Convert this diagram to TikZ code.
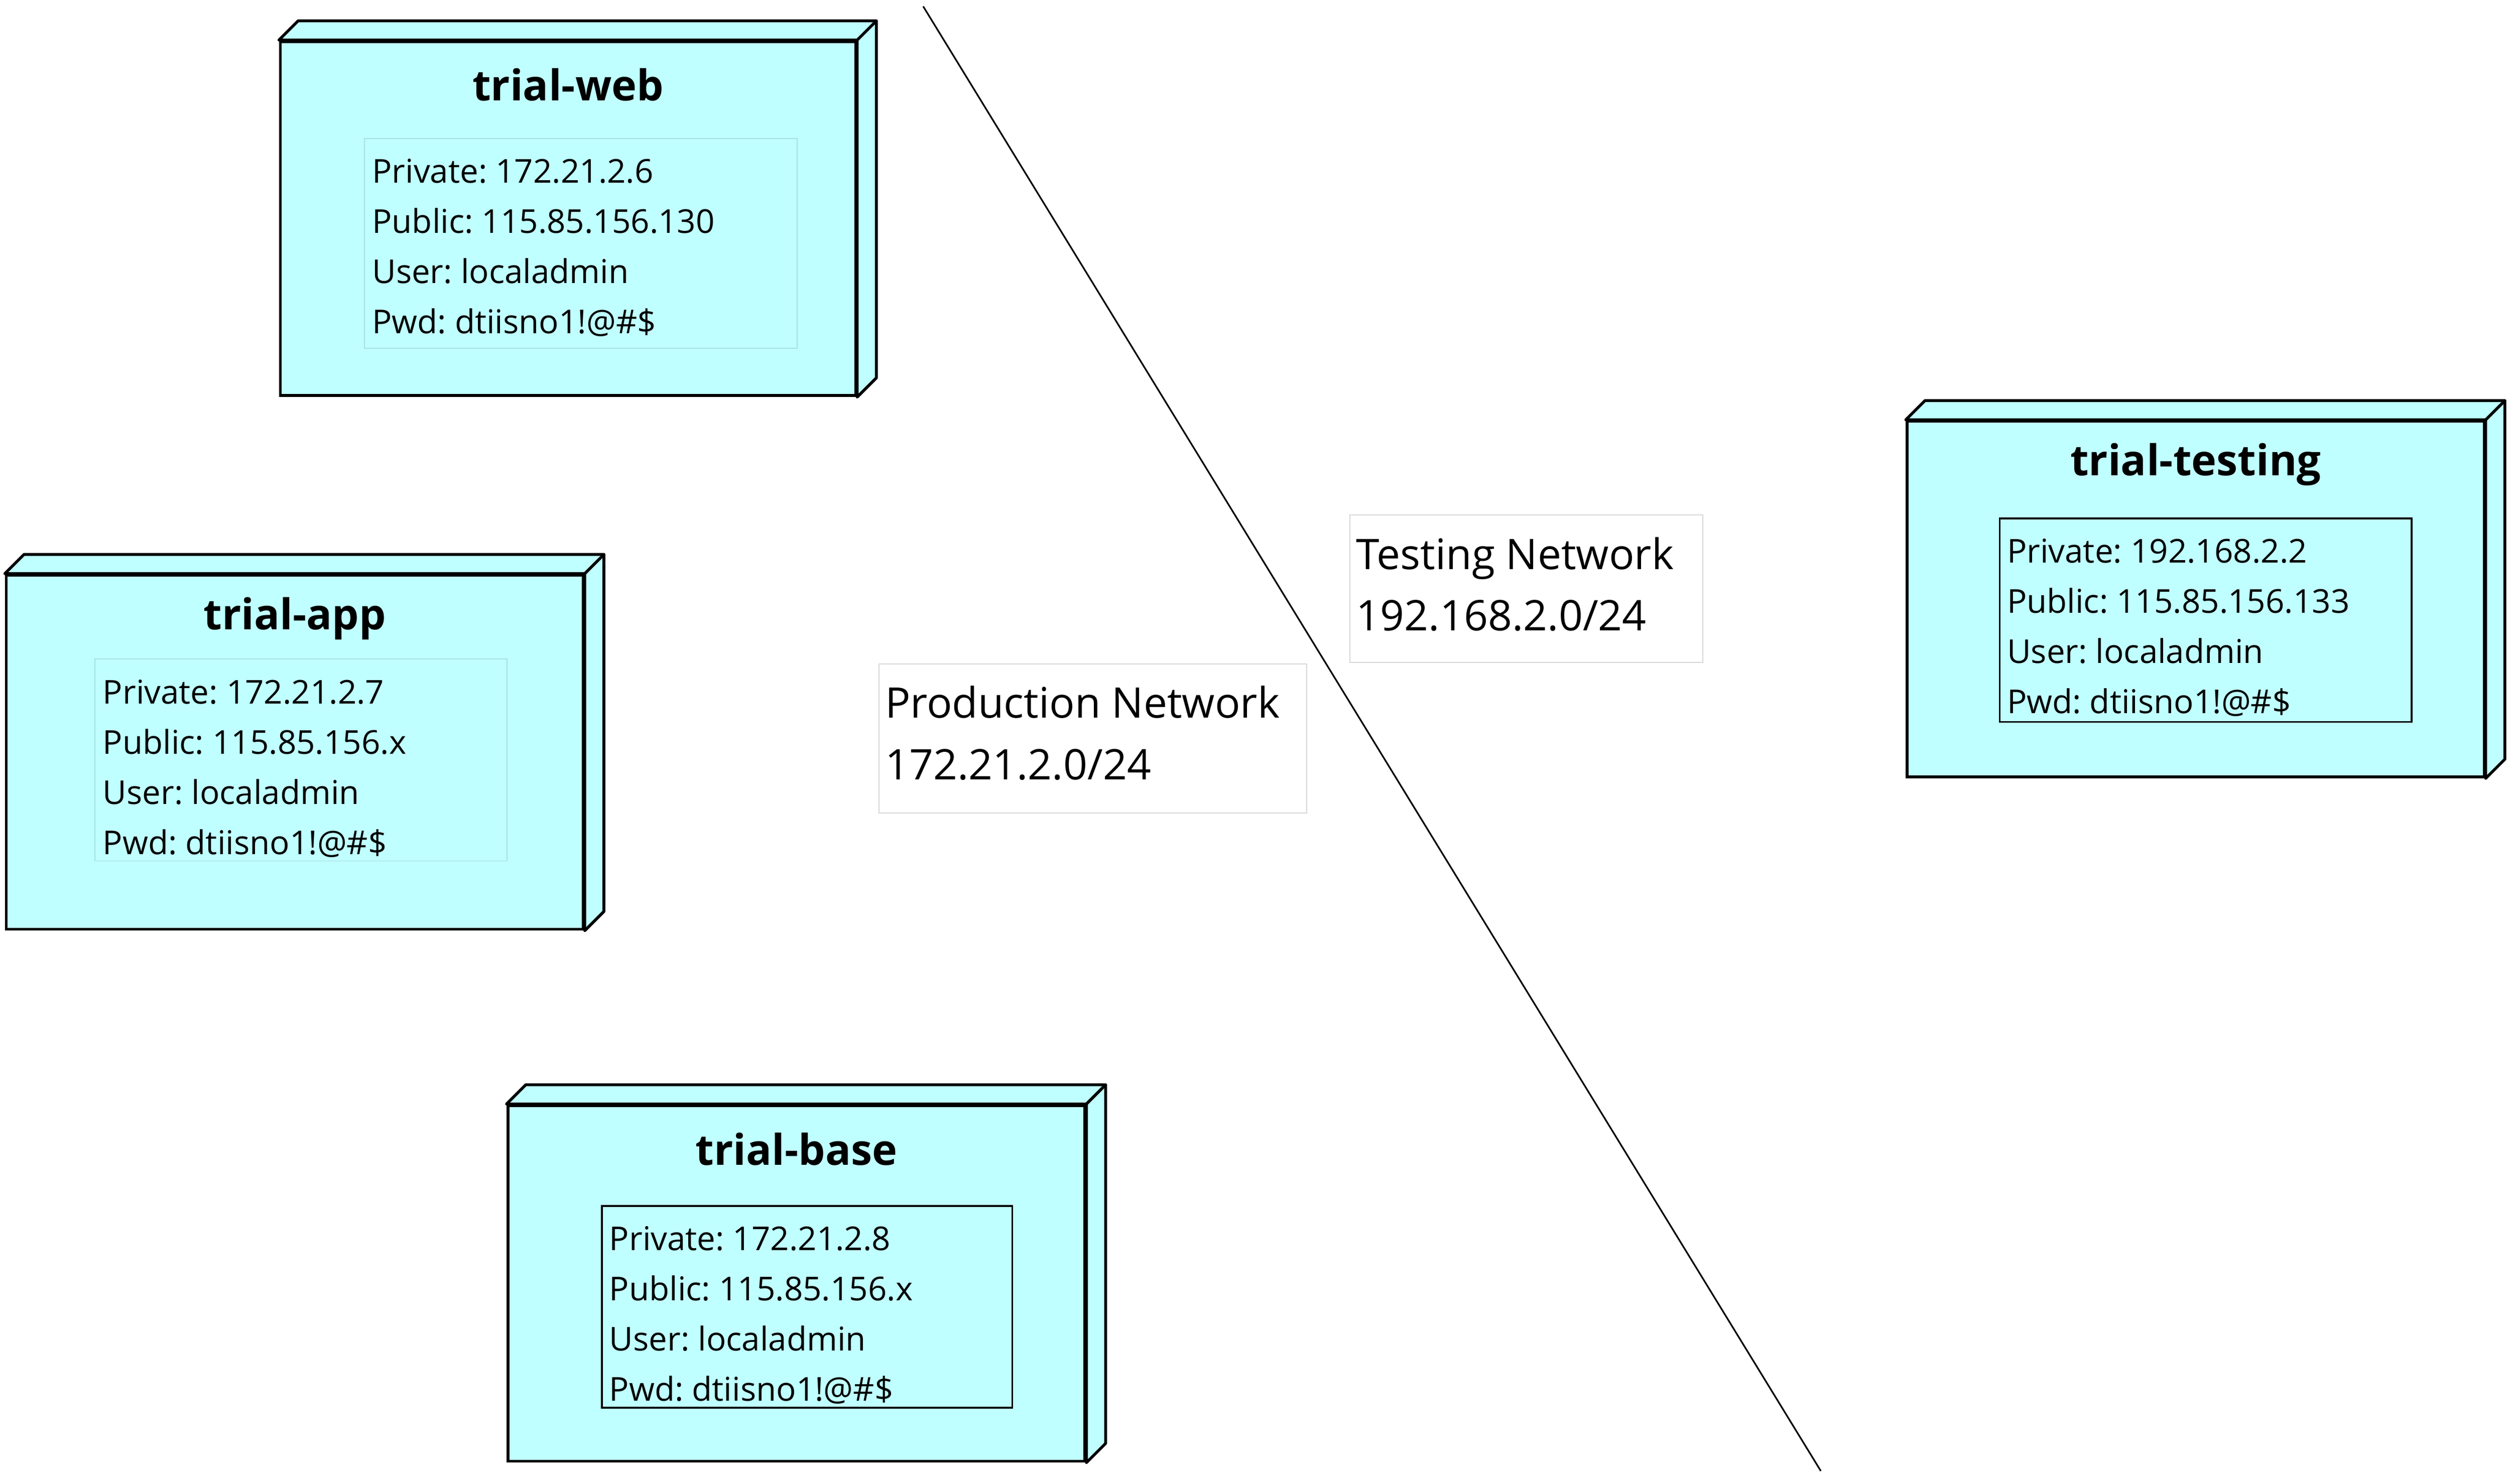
\documentclass[tikz,border=0pt]{standalone}
\usepackage{fontspec}
\setmainfont{Open Sans}
\frenchspacing
\usetikzlibrary{calc}
\definecolor{nodefill}{RGB}{192,255,255}
\definecolor{softedge}{RGB}{165,225,225}
\definecolor{labeledge}{RGB}{215,215,215}
\tikzset{
  server/.style={draw=black, fill=nodefill, line width=1.8pt, anchor=north west, inner sep=0pt},
  depth/.style={draw=black, fill=nodefill, line width=1.8pt, line join=round},
  title/.style={font=\bfseries\fontsize{26.5}{30}\selectfont, inner sep=0pt},
  infobox/.style={fill=nodefill, anchor=north west, inner sep=0pt},
  softbox/.style={infobox, draw=softedge, line width=0.6pt},
  hardbox/.style={infobox, draw=black, line width=1.1pt},
  infotext/.style={anchor=north west, align=left, inner sep=0pt,
    font=\fontsize{20.5}{31.3}\selectfont},
  netlabel/.style={draw=labeledge, fill=white, line width=0.6pt, anchor=north west, inner sep=0pt},
  nettext/.style={anchor=north west, align=left, inner sep=0pt,
    font=\fontsize{26.3}{38.5}\selectfont},
  divider/.style={draw=black, line width=1pt}
}
\newcommand{\serverbox}[6]{%
  % #1 name, #2 x, #3 y, #4 width, #5 height, #6 title
  \node[server, minimum width=#4pt, minimum height=#5pt] (#1) at (#2,#3) {};
  \draw[depth] (#1.north west) -- ++(12,-12) -- ($(#1.north east)+(12,-12)$)
     -- ($(#1.south east)+(12,-12)$) -- (#1.south east) -- (#1.north east) -- cycle;
  \draw[depth] (#1.north east) -- ++(12,-12);
  \node[title] (#1-title) at ($(#1.north)+(0,28)$) {#6};
}
\begin{document}
\begin{tikzpicture}[x=1pt,y=-1pt]
\useasboundingbox (0,0) rectangle (1566,926);

% divider line
\coordinate (lineA) at (576,4);
\coordinate (lineB) at (1136,918);
\draw[divider] (lineA) -- (lineB);

% trial-web
\serverbox{web}{174}{25}{359}{221}{trial-web}
\node[softbox, minimum width=270pt, minimum height=131pt] (webinfo) at (227,86) {};
\node[infotext] (webtext) at ($(webinfo.north west)+(5,13)$)
  {Private: 172.21.2.6\\Public: 115.85.156.130\\User: localadmin\\Pwd: dtiisno1!@\#\$};

% trial-app
\serverbox{app}{3}{358}{360}{221}{trial-app}
\node[softbox, minimum width=257pt, minimum height=126pt] (appinfo) at (59,411) {};
\node[infotext] (apptext) at ($(appinfo.north west)+(5,13)$)
  {Private: 172.21.2.7\\Public: 115.85.156.x\\User: localadmin\\Pwd: dtiisno1!@\#\$};

% trial-base
\serverbox{base}{316}{689}{360}{222}{trial-base}
\node[hardbox, minimum width=256pt, minimum height=126pt] (baseinfo) at (375,752) {};
\node[infotext] (basetext) at ($(baseinfo.north west)+(5,13)$)
  {Private: 172.21.2.8\\Public: 115.85.156.x\\User: localadmin\\Pwd: dtiisno1!@\#\$};

% trial-testing
\serverbox{testing}{1189}{262}{360}{222}{trial-testing}
\node[hardbox, minimum width=257pt, minimum height=127pt] (testinginfo) at (1247,323) {};
\node[infotext] (testingtext) at ($(testinginfo.north west)+(5,13)$)
  {Private: 192.168.2.2\\Public: 115.85.156.133\\User: localadmin\\Pwd: dtiisno1!@\#\$};

% network labels
\node[netlabel, minimum width=220pt, minimum height=92pt] (testnet) at (842,321) {};
\node[nettext] (testnettext) at ($(testnet.north west)+(4,14)$) {Testing Network\\192.168.2.0/24};
\node[netlabel, minimum width=267pt, minimum height=93pt] (prodnet) at (548,414) {};
\node[nettext] (prodnettext) at ($(prodnet.north west)+(4,14)$) {Production Network\\172.21.2.0/24};
\end{tikzpicture}
\end{document}
